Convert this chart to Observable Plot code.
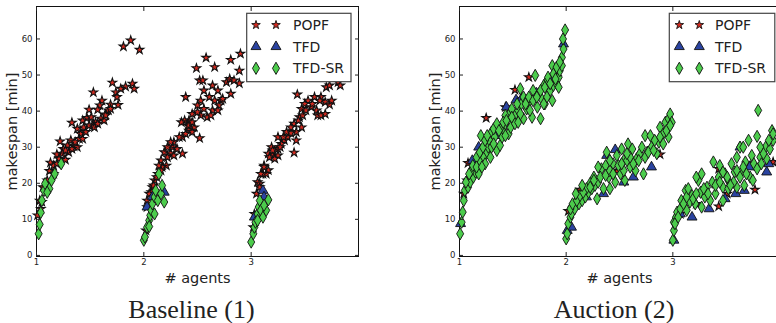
<!DOCTYPE html>
<html>
<head>
<meta charset="utf-8">
<script src="https://cdn.jsdelivr.net/npm/d3@7"></script>
<script src="https://cdn.jsdelivr.net/npm/@observablehq/plot@0.6"></script>
<style>
  body { margin: 0; background: #fff; }
  #wrap { position: relative; width: 776px; height: 323px; overflow: hidden; background: #fff; }
  .panel { position: absolute; top: 0; }
  .panel svg { max-width: none !important; }
  .caption { position: absolute; font-family: "Liberation Serif", serif; font-size: 26px; color: #222; white-space: nowrap; transform: translateX(-50%); line-height: 1; }
</style>
</head>
<body>
<div id="wrap"></div>
<script>
// ---- data: [agents (jittered), makespan (min)] ----
const baselinePOPF = [
  [1.878,59.6],[1.81,57.9],[1.96,57.0],[1.707,47.9],[1.53,45.2],[1.894,47.6],[1.91,46.2],[1.83,46.8],[1.785,46.2],[1.74,45.2],
  [1.75,43.9],[1.76,41.7],[1.69,41.8],[1.61,42.9],[1.59,41.6],[1.57,40.4],[1.49,40.4],[1.67,40.2],[1.64,39.1],[1.60,37.9],
  [1.55,36.9],[1.52,36.0],[1.47,38.1],[1.43,37.4],[1.33,36.8],[1.38,35.1],[1.41,33.7],[1.44,35.5],[1.40,32.3],[1.32,31.9],
  [1.29,30.5],[1.35,30.2],[1.25,29.5],[1.22,31.6],[1.24,28.2],[1.19,28.0],[1.21,26.8],[1.13,25.7],[1.16,24.9],[1.27,26.5],
  [1.12,23.4],[1.05,14.8],[1.04,12.9],[1.01,11.1],[1.30,28.6],[1.38,30.0],[1.51,38.3],
  [1.27,29.1],[1.33,29.5],[1.36,31.4],[1.43,32.3],[1.46,34.2],[1.49,36.0],[1.54,35.5],[1.57,36.5],[1.63,37.4],[1.645,38.8],
  [1.69,40.6],[1.16,22.6],[1.10,20.8],[1.06,18.9],[1.03,15.2],[1.19,25.4],
  [2.58,54.8],[2.49,51.9],[2.66,52.2],[2.90,55.9],[2.81,54.2],[2.52,48.5],[2.55,48.5],[2.56,45.7],[2.64,47.1],[2.77,48.0],
  [2.80,48.9],[2.84,48.5],[2.89,47.7],[2.81,44.8],[2.89,51.2],[2.69,45.7],[2.72,42.9],[2.66,42.9],[2.61,43.9],[2.53,42.9],
  [2.50,41.6],[2.45,39.2],[2.53,38.8],[2.59,38.3],[2.64,40.2],[2.70,41.6],[2.39,43.9],[2.42,37.4],[2.38,37.4],[2.35,36.9],
  [2.47,35.5],[2.41,36.0],[2.42,34.6],[2.45,34.2],[2.36,32.8],[2.28,31.4],[2.33,32.8],[2.27,30.0],[2.19,28.6],[2.25,28.3],
  [2.36,28.2],[2.52,32.5],[2.22,27.2],[2.28,27.7],[2.16,26.3],[2.21,24.9],[2.13,22.6],[2.10,20.8],[2.08,18.9],[2.07,17.5],
  [2.03,15.2],[2.02,6.9],[2.17,24.5],[2.14,24.9],
  [2.22,30.0],[2.25,31.4],[2.31,29.5],[2.39,33.7],[2.42,36.0],[2.45,36.9],[2.50,39.7],[2.56,40.6],[2.625,38.8],[2.69,40.2],
  [2.735,43.4],[2.16,23.5],[2.12,21.7],[2.09,19.4],[2.05,17.1],[2.03,13.4],
  [3.43,44.6],[3.53,42.9],[3.59,43.9],[3.65,43.9],[3.69,42.5],[3.73,41.8],[3.70,46.6],[3.73,47.1],[3.81,48.0],[3.83,47.1],
  [3.56,41.1],[3.61,40.2],[3.62,38.8],[3.50,42.0],[3.47,40.6],[3.45,38.3],[3.40,36.5],[3.47,35.5],[3.42,34.2],[3.37,33.9],
  [3.34,32.8],[3.31,31.9],[3.42,31.9],[3.25,32.8],[3.28,30.9],[3.25,29.5],[3.19,30.0],[3.20,27.7],[3.25,27.7],[3.22,26.8],
  [3.16,28.2],[3.40,28.5],[3.12,24.9],[3.16,23.6],[3.14,22.6],[3.11,22.6],[3.06,20.3],[3.08,19.9],[3.05,17.1],[3.03,11.5],
  [3.02,7.8],[3.65,38.8],[3.69,39.2],
  [3.09,22.6],[3.12,24.5],[3.17,27.2],[3.20,29.1],[3.27,30.0],[3.30,32.8],[3.33,34.2],[3.37,35.5],[3.44,37.4],[3.48,38.8],
  [3.51,40.2],[3.57,42.0],[3.64,42.9],[3.75,42.9],[3.08,18.9]
];
const baselineTFD = [
  [2.19,17.5],[2.03,13.4],[2.08,16.2],
  [3.11,18.0],[3.12,16.2],[3.03,10.6]
];
const baselineTFDSR = [
  [1.02,6.0],[1.03,8.6],[1.04,11.9],[1.05,15.2],[1.07,18.0],[1.08,19.9],[1.12,18.5],[1.14,20.8],[1.17,22.6],[1.23,25.4],[1.10,17.5],
  [2.00,4.2],[2.01,5.1],[2.03,7.8],[2.05,9.7],[2.06,11.1],[2.07,12.5],[2.08,14.3],[2.10,16.2],[2.11,18.0],[2.14,22.6],
  [2.13,15.2],[2.16,17.1],[2.17,19.4],[2.19,14.8],[2.10,11.5],[2.05,8.0],
  [3.00,3.7],[3.02,6.0],[3.03,7.8],[3.04,9.2],[3.06,11.5],[3.07,13.4],[3.08,15.2],[3.09,12.5],[3.11,10.6],[3.14,12.5],
  [3.16,15.4],[3.12,13.9],[3.06,9.7]
];
const auctionPOPF = [
  [1.25,38.1],[1.08,25.6],[1.04,17.1],[1.07,20.8],[1.43,41.1],[1.475,38.5],[1.52,45.9],[1.65,49.4],[1.58,43.4],[1.91,49.4],[1.39,33.7],
  [2.02,12.3],[2.13,18.2],[2.475,23.5],[2.88,28.0],[2.43,23.4],
  [3.07,11.5],[3.22,14.3],[3.43,13.6],[3.51,17.1],[3.77,18.2],[3.725,24.9],[3.94,25.9],[3.43,24.0]
];
const auctionTFD = [
  [1.01,8.8],[1.12,26.3],[1.18,30.0],[1.44,41.1],[1.53,43.1],[1.58,43.4],[1.72,45.0],[1.87,49.4],[1.975,58.6],[1.35,33.2],
  [2.01,6.9],[2.05,7.8],[2.38,27.7],[2.46,29.3],[2.54,20.3],[2.63,21.7],[2.80,24.5],[2.08,14.3],[2.35,17.1],[2.19,16.2],
  [3.01,4.2],[3.07,11.5],[3.18,10.6],[3.34,12.9],[3.49,15.7],[3.59,17.1],[3.67,18.0],[3.63,30.0],[3.88,23.1],[3.90,25.4],[3.72,24.5]
];
const auctionTFDSR = [
  [1.006,6.0],[1.02,9.2],[1.03,12.0],[1.04,15.2],[1.05,18.0],[1.08,18.9],[1.10,20.3],[1.13,21.7],[1.15,23.1],[1.17,24.9],
  [1.19,26.3],[1.20,33.2],[1.23,27.2],[1.26,28.6],[1.27,30.0],[1.29,31.4],[1.30,34.2],[1.33,32.8],[1.35,29.1],[1.38,30.5],
  [1.40,32.8],[1.41,35.1],[1.43,36.5],[1.46,33.7],[1.48,35.5],[1.51,37.4],[1.52,38.8],[1.55,40.2],[1.57,46.2],[1.58,42.0],
  [1.60,37.9],[1.63,40.6],[1.66,42.9],[1.68,38.3],[1.69,45.7],[1.71,49.9],[1.73,41.1],[1.76,37.9],[1.77,43.4],[1.80,42.0],
  [1.82,48.5],[1.85,45.7],[1.87,52.6],[1.88,47.1],[1.91,47.6],[1.93,49.4],[1.94,51.2],[1.96,54.9],[1.975,57.2],[1.97,60.0],
  [1.99,62.5],[1.96,52.6],[1.74,44.8],[1.60,43.9],[1.46,38.8],[1.38,35.1],[1.29,27.2],[1.24,25.4],[1.18,22.6],[1.11,23.5],
  [1.79,47.1],[1.83,49.4],[1.63,42.9],[1.49,40.6],[1.43,38.8],
  [1.06,20.3],[1.09,22.6],[1.125,24.9],[1.16,27.2],[1.19,28.6],[1.22,30.0],[1.24,31.9],[1.26,33.2],[1.32,35.1],[1.35,36.5],
  [1.37,34.6],[1.41,36.9],[1.44,37.4],[1.49,38.3],[1.52,36.5],[1.54,42.0],[1.57,39.2],[1.62,42.0],[1.65,43.9],[1.69,42.9],
  [1.725,43.9],[1.76,45.7],[1.80,46.6],[1.82,43.9],[1.85,47.6],[1.88,50.3],[1.90,48.9],[1.93,46.6],[1.91,52.2],[1.94,53.6],
  [1.16,24.5],[1.21,24.5],[1.30,30.0],[1.32,30.9],[1.43,33.2],[1.55,36.9],[1.66,40.2],[1.79,42.0],[1.87,42.9],
  [2.00,4.6],[2.01,6.0],[2.02,8.8],[2.04,10.6],[2.05,11.5],[2.08,12.9],[2.12,14.3],[2.15,15.2],[2.18,16.2],[2.21,17.5],
  [2.225,20.0],[2.24,18.5],[2.27,19.4],[2.29,15.7],[2.30,20.3],[2.33,24.0],[2.35,18.5],[2.38,28.6],[2.40,21.7],[2.41,18.5],
  [2.44,25.4],[2.46,20.3],[2.475,27.7],[2.51,22.6],[2.54,26.3],[2.55,20.8],[2.58,30.9],[2.60,24.5],[2.62,29.5],[2.65,23.5],
  [2.66,26.8],[2.69,28.2],[2.725,22.6],[2.74,33.2],[2.79,33.2],[2.76,28.6],[2.80,30.0],[2.85,28.2],[2.87,31.4],[2.88,35.5],
  [2.91,33.7],[2.93,36.9],[2.96,37.9],[2.975,39.2],[2.96,32.8],[2.99,36.9],[2.19,18.5],[2.26,21.7],[2.37,24.9],[2.52,29.5],[2.54,23.5],
  [2.04,12.9],[2.06,14.3],[2.10,15.2],[2.13,16.6],[2.16,17.5],[2.225,18.9],[2.26,20.8],[2.32,21.7],[2.37,22.2],[2.41,23.5],
  [2.44,22.6],[2.49,24.9],[2.52,25.4],[2.57,26.3],[2.60,27.2],[2.63,25.4],[2.68,26.3],[2.71,30.0],[2.74,27.2],[2.77,28.6],
  [2.82,29.1],[2.83,31.9],[2.88,32.8],[2.91,30.9],[2.94,34.6],[2.975,36.0],[2.30,24.5],[2.41,26.3],[2.57,28.2],[2.15,19.4],[2.09,17.1],
  [3.00,4.2],[3.01,6.9],[3.01,9.2],[3.03,10.6],[3.04,12.0],[3.07,12.9],[3.08,15.2],[3.12,18.0],[3.13,12.5],[3.16,14.8],
  [3.18,16.6],[3.21,14.3],[3.24,20.8],[3.26,17.5],[3.27,13.4],[3.30,16.2],[3.32,18.9],[3.37,20.3],[3.38,25.9],[3.40,17.1],
  [3.43,21.7],[3.44,24.9],[3.47,18.9],[3.49,22.6],[3.52,20.8],[3.55,25.4],[3.58,23.1],[3.60,18.9],[3.63,30.0],[3.65,23.5],
  [3.68,25.9],[3.71,31.9],[3.725,21.7],[3.74,27.7],[3.75,20.8],[3.79,33.0],[3.80,40.2],[3.82,27.2],[3.83,25.4],[3.87,30.0],
  [3.88,26.8],[3.91,29.5],[3.93,34.6],[3.94,31.9],[3.52,18.5],[3.35,15.2],[3.47,15.2],[3.67,19.4],[3.57,20.3],
  [3.02,8.8],[3.05,10.6],[3.10,14.3],[3.13,16.2],[3.145,18.5],[3.19,15.7],[3.22,17.1],[3.29,18.5],[3.33,17.1],[3.40,19.4],
  [3.44,20.3],[3.51,21.7],[3.54,19.4],[3.60,23.5],[3.63,21.7],[3.66,24.5],[3.69,22.6],[3.76,25.4],[3.79,24.0],[3.82,30.0],
  [3.85,28.2],[3.90,31.9],[3.94,33.7],[3.27,22.6],[3.22,21.7],[3.47,23.1],[3.60,27.2],[3.66,30.0]
];
const seriesNames = ["POPF", "TFD", "TFD-SR"];
const xTicks = [1, 2, 3, 4];
const yTicks = [0, 10, 20, 30, 40, 50, 60];
const captions = ["Baseline (1)", "Auction (2)"];

// ---- styles ----
const styles = [
  {symbol: "star", type: d3.symbolStar, r: 2.7, fill: "#d42a1f"},
  {symbol: "triangle", type: d3.symbolTriangle, r: 3.7, fill: "#2a43a0"},
  {symbol: "diamond", type: d3.symbolDiamond, r: 3.7, fill: "#4ccc4c"}
];
const axisFont = "DejaVu Sans, sans-serif";

function makePanel(series, {left, marginLeft, marginRight, width}) {
  const plot = Plot.plot({
    width, height: 290,
    marginLeft, marginRight, marginTop: 6, marginBottom: 34,
    style: {fontFamily: axisFont, fontSize: "8.5px", color: "#222", background: "transparent", maxWidth: "none"},
    x: {domain: [1, 4]},
    y: {domain: [-0.3, 69]},
    marks: [
      Plot.frame({stroke: "#111", strokeWidth: 1}),
      ...series.map((data, i) => Plot.dot(data, {
        x: d => d[0], y: d => d[1], symbol: styles[i].symbol, r: styles[i].r,
        fill: styles[i].fill, stroke: "#111", strokeWidth: i === 0 ? 1.1 : 0.9
      })),
      Plot.axisX({anchor: "bottom", ticks: xTicks, tickSize: -4, tickPadding: 6,
        tickFormat: d => d === 4 ? "" : String(d),
        label: "# agents", labelAnchor: "center", labelOffset: 26, labelArrow: "none"}),
      Plot.axisX({anchor: "top", ticks: xTicks, tickSize: -4, tickFormat: () => "", label: null}),
      Plot.axisY({anchor: "left", ticks: yTicks, tickSize: -4, tickPadding: 8,
        label: "makespan [min]", labelAnchor: "center", labelOffset: 30, labelArrow: "none"}),
      Plot.axisY({anchor: "right", ticks: yTicks, tickSize: -4, tickFormat: () => "", label: null})
    ]
  });
  d3.select(plot).selectAll("g[aria-label='x-axis label'] text, g[aria-label='y-axis label'] text")
    .style("font-size", "14.5px").style("fill", "#222");
  const div = document.createElement("div");
  div.className = "panel";
  div.style.left = left + "px";
  div.style.width = width + "px";
  div.appendChild(plot);
  document.getElementById("wrap").appendChild(div);
  return plot;
}

function addLegend(svgNode, {x, y, w, h, mx1, mx2, tx, rows}) {
  const svg = d3.select(svgNode);
  const g = svg.append("g").attr("class", "legend").attr("text-anchor", "start");
  g.append("rect").attr("x", x).attr("y", y).attr("width", w).attr("height", h)
    .attr("fill", "#fff").attr("stroke", "#444").attr("stroke-width", 1.2);
  seriesNames.forEach((name, i) => {
    const s = styles[i];
    const sym = d3.symbol().type(s.type).size(Math.PI * s.r * s.r);
    [mx1, mx2].forEach(mx => {
      g.append("path").attr("d", sym()).attr("transform", `translate(${mx},${rows[i]})`)
        .attr("fill", s.fill).attr("stroke", "#111").attr("stroke-width", 0.9);
    });
    g.append("text").attr("x", tx).attr("y", rows[i]).attr("dy", "0.36em").attr("text-anchor", "start")
      .attr("font-family", axisFont).attr("font-size", "14px").attr("fill", "#222").text(name);
  });
}

function addCaption(text, cx, top) {
  const d = document.createElement("div");
  d.className = "caption";
  d.style.left = cx + "px";
  d.style.top = top + "px";
  d.textContent = text;
  document.getElementById("wrap").appendChild(d);
}

const p1 = makePanel([baselinePOPF, baselineTFD, baselineTFDSR], {left: 0, marginLeft: 36, marginRight: 32, width: 390});
const p2 = makePanel([auctionPOPF, auctionTFD, auctionTFDSR], {left: 390, marginLeft: 69, marginRight: 31, width: 420});
addLegend(p1, {x: 246.7, y: 13.3, w: 104.3, h: 68.4, mx1: 256, mx2: 276, tx: 293, rows: [25, 46.7, 68.3]});
addLegend(p2, {x: 279.3, y: 13.3, w: 105.5, h: 68.4, mx1: 289.3, mx2: 309.3, tx: 325, rows: [25, 46.7, 68.3]});
addCaption(captions[0], 191.5, 297);
addCaption(captions[1], 614, 297);
</script>
</body>
</html>
